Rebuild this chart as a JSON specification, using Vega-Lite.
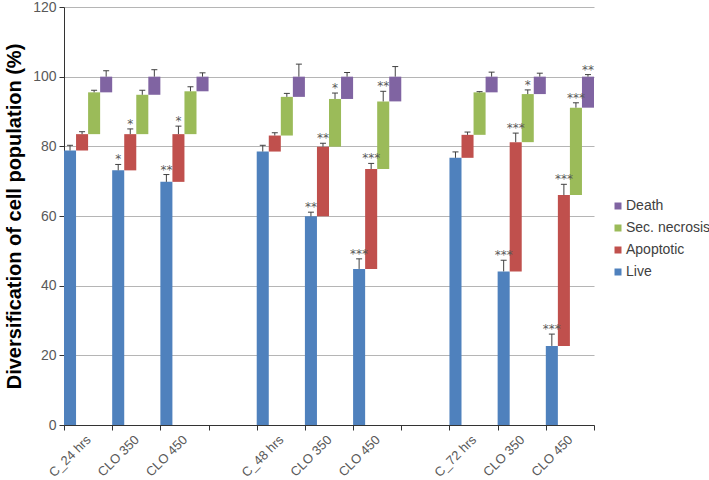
{
  "$schema": "https://vega.github.io/schema/vega-lite/v6.json",
  "width": 530,
  "height": 418,
  "autosize": "none",
  "padding": {"left": 64, "top": 7, "right": 115, "bottom": 55},
  "background": "white",
  "config": {"view": {"stroke": null}, "font": "Liberation Sans"},
  "data": {"values": [
    {"cat": 1, "series": "Live", "lo": 0, "hi": 78.8, "err": 80.3, "star": ""},
    {"cat": 1, "series": "Apoptotic", "lo": 78.8, "hi": 83.5, "err": 84.2, "star": ""},
    {"cat": 1, "series": "Sec. necrosis", "lo": 83.5, "hi": 95.5, "err": 96.1, "star": ""},
    {"cat": 1, "series": "Death", "lo": 95.5, "hi": 100, "err": 101.7, "star": ""},
    {"cat": 2, "series": "Live", "lo": 0, "hi": 73.1, "err": 74.8, "star": "*"},
    {"cat": 2, "series": "Apoptotic", "lo": 73.1, "hi": 83.5, "err": 85.0, "star": "*"},
    {"cat": 2, "series": "Sec. necrosis", "lo": 83.5, "hi": 94.8, "err": 96.1, "star": ""},
    {"cat": 2, "series": "Death", "lo": 94.8, "hi": 100, "err": 102.0, "star": ""},
    {"cat": 3, "series": "Live", "lo": 0, "hi": 69.8, "err": 71.9, "star": "**"},
    {"cat": 3, "series": "Apoptotic", "lo": 69.8, "hi": 83.5, "err": 85.8, "star": "*"},
    {"cat": 3, "series": "Sec. necrosis", "lo": 83.5, "hi": 95.8, "err": 97.1, "star": ""},
    {"cat": 3, "series": "Death", "lo": 95.8, "hi": 100, "err": 101.1, "star": ""},
    {"cat": 5, "series": "Live", "lo": 0, "hi": 78.5, "err": 80.3, "star": ""},
    {"cat": 5, "series": "Apoptotic", "lo": 78.5, "hi": 83.1, "err": 83.9, "star": ""},
    {"cat": 5, "series": "Sec. necrosis", "lo": 83.1, "hi": 94.2, "err": 95.2, "star": ""},
    {"cat": 5, "series": "Death", "lo": 94.2, "hi": 100, "err": 103.6, "star": ""},
    {"cat": 6, "series": "Live", "lo": 0, "hi": 59.9, "err": 61.1, "star": "**"},
    {"cat": 6, "series": "Apoptotic", "lo": 59.9, "hi": 79.9, "err": 80.9, "star": "**"},
    {"cat": 6, "series": "Sec. necrosis", "lo": 79.9, "hi": 93.6, "err": 95.3, "star": "*"},
    {"cat": 6, "series": "Death", "lo": 93.6, "hi": 100, "err": 101.2, "star": ""},
    {"cat": 7, "series": "Live", "lo": 0, "hi": 44.8, "err": 47.7, "star": "***"},
    {"cat": 7, "series": "Apoptotic", "lo": 44.8, "hi": 73.5, "err": 75.1, "star": "***"},
    {"cat": 7, "series": "Sec. necrosis", "lo": 73.5, "hi": 92.9, "err": 95.8, "star": "**"},
    {"cat": 7, "series": "Death", "lo": 92.9, "hi": 100, "err": 102.9, "star": ""},
    {"cat": 9, "series": "Live", "lo": 0, "hi": 76.7, "err": 78.4, "star": ""},
    {"cat": 9, "series": "Apoptotic", "lo": 76.7, "hi": 83.3, "err": 84.1, "star": ""},
    {"cat": 9, "series": "Sec. necrosis", "lo": 83.3, "hi": 95.5, "err": 95.7, "star": ""},
    {"cat": 9, "series": "Death", "lo": 95.5, "hi": 100, "err": 101.3, "star": ""},
    {"cat": 10, "series": "Live", "lo": 0, "hi": 44.1, "err": 47.3, "star": "***"},
    {"cat": 10, "series": "Apoptotic", "lo": 44.1, "hi": 81.2, "err": 83.8, "star": "***"},
    {"cat": 10, "series": "Sec. necrosis", "lo": 81.2, "hi": 95.0, "err": 96.2, "star": "*"},
    {"cat": 10, "series": "Death", "lo": 95.0, "hi": 100, "err": 101.0, "star": ""},
    {"cat": 11, "series": "Live", "lo": 0, "hi": 22.7, "err": 26.1, "star": "***"},
    {"cat": 11, "series": "Apoptotic", "lo": 22.7, "hi": 66.0, "err": 69.1, "star": "***"},
    {"cat": 11, "series": "Sec. necrosis", "lo": 66.0, "hi": 91.1, "err": 92.5, "star": "***"},
    {"cat": 11, "series": "Death", "lo": 91.1, "hi": 100, "err": 100.6, "star": "**"}
  ]},
  "encoding": {
    "x": {
      "field": "cat",
      "type": "ordinal",
      "scale": {"domain": [1, 2, 3, 4, 5, 6, 7, 8, 9, 10, 11], "paddingInner": 0, "paddingOuter": 0},
      "axis": {
        "title": null,
        "tickBand": "extent",
        "labelAngle": -45,
        "labelFontSize": 13,
        "labelColor": "#595959",
        "domainColor": "#333333",
        "tickColor": "#333333",
        "tickSize": 5,
        "labelPadding": 3,
        "labelOffset": -4,
        "grid": false,
        "labelExpr": "['C_24 hrs','CLO 350','CLO 450','','C_48 hrs','CLO 350','CLO 450','','C_72 hrs','CLO 350','CLO 450'][datum.value - 1]"
      }
    },
    "xOffset": {
      "field": "series",
      "type": "nominal",
      "sort": ["Live", "Apoptotic", "Sec. necrosis", "Death"],
      "scale": {"paddingInner": 0, "paddingOuter": 0}
    }
  },
  "layer": [
    {
      "mark": {"type": "bar"},
      "encoding": {
        "y": {
          "field": "lo",
          "type": "quantitative",
          "scale": {"domain": [0, 120]},
          "axis": {
            "title": "Diversification of cell population (%)",
            "titleFontSize": 20,
            "titleFontWeight": "bold",
            "titleColor": "#000000",
            "titlePadding": 8,
            "values": [0, 20, 40, 60, 80, 100, 120],
            "grid": true,
            "gridColor": "#B5B5B5",
            "domainColor": "#333333",
            "tickColor": "#333333",
            "tickSize": 5,
            "labelFontSize": 14,
            "labelColor": "#595959",
            "labelPadding": 3
          }
        },
        "y2": {"field": "hi"},
        "color": {
          "field": "series",
          "type": "nominal",
          "scale": {
            "domain": ["Death", "Sec. necrosis", "Apoptotic", "Live"],
            "range": ["#8064A2", "#9BBB59", "#C0504D", "#4F81BD"]
          },
          "legend": {
            "title": null,
            "orient": "none",
            "legendX": 547,
            "legendY": 192,
            "symbolType": "square",
            "symbolSize": 49,
            "symbolStrokeWidth": 0,
            "labelFontSize": 14,
            "labelColor": "#404040",
            "rowPadding": 8,
            "labelOffset": 1
          }
        }
      }
    },
    {
      "mark": {"type": "rule", "color": "#404040", "strokeWidth": 1},
      "encoding": {
        "y": {"field": "hi", "type": "quantitative"},
        "y2": {"field": "err"}
      }
    },
    {
      "mark": {"type": "tick", "orient": "horizontal", "size": 6, "thickness": 1, "color": "#404040", "opacity": 1},
      "encoding": {
        "y": {"field": "err", "type": "quantitative"}
      }
    },
    {
      "mark": {"type": "text", "font": "DejaVu Sans", "fontSize": 12, "fill": "#595959", "baseline": "alphabetic", "align": "center", "dy": -1},
      "encoding": {
        "y": {"field": "err", "type": "quantitative"},
        "text": {"field": "star"}
      }
    }
  ]
}
